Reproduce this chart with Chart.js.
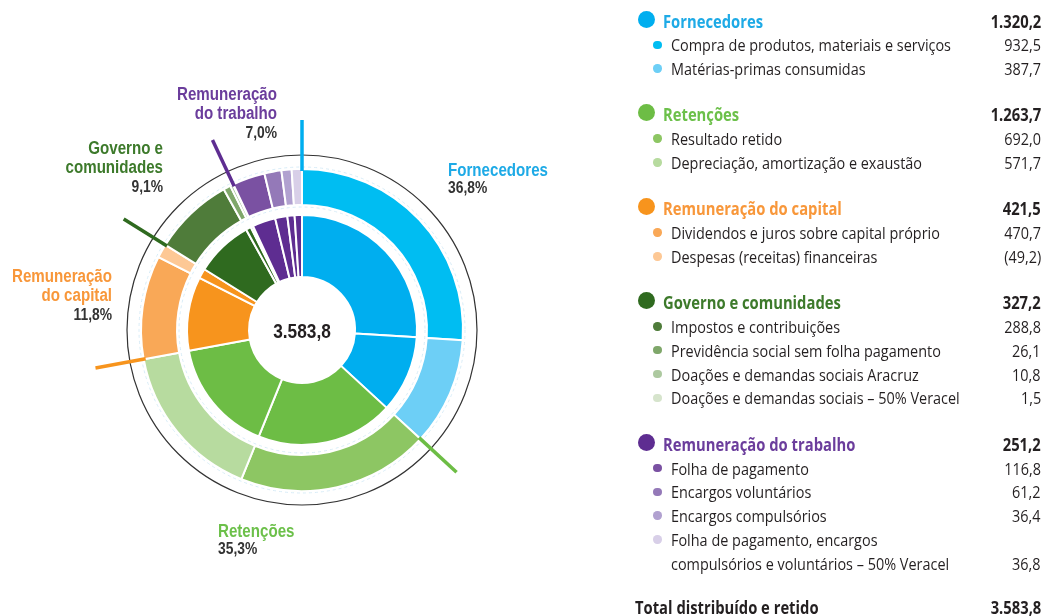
<!DOCTYPE html>
<html>
<head>
<meta charset="utf-8">
<script src="https://cdn.jsdelivr.net/npm/chart.js@4/dist/chart.umd.min.js"></script>
<style>
  html, body { margin: 0; padding: 0; background: #fff; }
  #wrap { position: relative; width: 1045px; height: 616px; overflow: hidden; }
  #chart { position: absolute; left: 0; top: 0; }
  .row { position: absolute; left: 600px; width: 441px; height: 24px; line-height: 24px;
         font-family: "Open Sans", sans-serif; font-size: 16.5px; color: #231f20; white-space: nowrap; }
  .row .dot { position: absolute; border-radius: 50%; }
  .row .txt { position: absolute; transform-origin: 0 50%; }
  .row .val { position: absolute; right: 0; transform-origin: 100% 50%; }
  .row.head .txt, .row.head .val, .row.total .txt, .row.total .val { font-weight: bold; font-size: 17px; }
</style>
</head>
<body>
<div id="wrap">
  <canvas id="chart" width="1045" height="616"></canvas>
</div>
<script>
// ---------- DATA ----------
const categories = ['Fornecedores', 'Retenções', 'Remuneração do capital', 'Governo e comunidades', 'Remuneração do trabalho'];
const categoryLabelLines = [['Fornecedores'], ['Retenções'], ['Remuneração', 'do capital'], ['Governo e', 'comunidades'], ['Remuneração', 'do trabalho']];
const categoryTotals = [1320.2, 1263.7, 421.5, 327.2, 251.2];
const categoryShares = ['36,8%', '35,3%', '11,8%', '9,1%', '7,0%'];
const itemLabels = [
  ['Compra de produtos, materiais e serviços'],
  ['Matérias-primas consumidas'],
  ['Resultado retido'],
  ['Depreciação, amortização e exaustão'],
  ['Dividendos e juros sobre capital próprio'],
  ['Despesas (receitas) financeiras'],
  ['Impostos e contribuições'],
  ['Previdência social sem folha pagamento'],
  ['Doações e demandas sociais Aracruz'],
  ['Doações e demandas sociais – 50% Veracel'],
  ['Folha de pagamento'],
  ['Encargos voluntários'],
  ['Encargos compulsórios'],
  ['Folha de pagamento, encargos', 'compulsórios e voluntários – 50% Veracel']
];
const itemValues = [932.5, 387.7, 692.0, 571.7, 470.7, -49.2, 288.8, 26.1, 10.8, 1.5, 116.8, 61.2, 36.4, 36.8];
// slice sizes as drawn in both rings (capital slice shown net of financial result)
const ringValues = [932.5, 387.7, 692.0, 571.7, 372.3, 49.2, 288.8, 26.1, 10.8, 1.5, 116.8, 61.2, 36.4, 36.8];
const itemCategory = [0, 0, 1, 1, 2, 2, 3, 3, 3, 3, 4, 4, 4, 4];
const totalValue = 3583.8;
const totalLabel = 'Total distribuído e retido';
const ringGap = [1];

// ---------- STYLES ----------
const categoryColors = ['#00aeef', '#6dbd45', '#f7941d', '#2f6a1f', '#5e2d91'];
const categoryTextColors = ['#1eaae6', '#6cc04a', '#f8973a', '#3d7a2b', '#6b3d9c'];
const itemColors = ['#00bdf2', '#6dcff6', '#8dc663', '#b7db9f', '#f9a857', '#fdc895',
                    '#4f7c3a', '#7fa76a', '#adc9a0', '#d6e4cc', '#7a51a2', '#9479b8', '#b1a1d0', '#d8cfe8'];

const fmt = v => {
  const s = Math.abs(v).toLocaleString('pt-BR', { minimumFractionDigits: 1, maximumFractionDigits: 1 });
  return v < 0 ? '(' + s + ')' : s;
};

const measureCtx = document.createElement('canvas').getContext('2d');
function textWidth(text, font) { measureCtx.font = font; return measureCtx.measureText(text).width; }

// ---------- DECORATION PLUGIN ----------
const LF = '"Liberation Sans", Arial, sans-serif';
const labelScale = 100 / textWidth('Remuneração', 'bold 17.5px ' + LF);
function squeezedText(ctx, text, x, y, align, sx) {
  ctx.save();
  ctx.translate(x, y);
  ctx.scale(sx, 1);
  ctx.textAlign = align;
  ctx.fillText(text, 0, 0);
  ctx.restore();
}
const deco = {
  id: 'deco',
  afterDatasetsDraw(chart) {
    const ctx = chart.ctx;
    const outer = chart.getDatasetMeta(0).data;
    const cx = outer[0].x, cy = outer[0].y;
    const R = outer[0].outerRadius;
    ctx.save();
    // faint dashed guide circles
    ctx.setLineDash([3, 3]);
    ctx.strokeStyle = '#d8ecf7';
    ctx.lineWidth = 1;
    [R + 2, outer[0].innerRadius - 2].forEach(r => {
      ctx.beginPath(); ctx.arc(cx, cy, r, 0, Math.PI * 2); ctx.stroke();
    });
    ctx.setLineDash([]);
    // thin outer circle
    ctx.strokeStyle = '#333333';
    ctx.lineWidth = 1.2;
    ctx.beginPath(); ctx.arc(cx, cy, R + 14, 0, Math.PI * 2); ctx.stroke();
    // leader lines at the start of each category
    ctx.lineWidth = 3.5;
    ctx.lineCap = 'butt';
    categories.forEach((c, ci) => {
      const idx = itemCategory.indexOf(ci);
      const a = outer[idx].startAngle;
      ctx.strokeStyle = categoryColors[ci];
      ctx.beginPath();
      ctx.moveTo(cx + Math.cos(a) * (R - 2), cy + Math.sin(a) * (R - 2));
      ctx.lineTo(cx + Math.cos(a) * (R + 49), cy + Math.sin(a) * (R + 49));
      ctx.stroke();
    });
    // category labels
    const labelPos = [
      { x: 448, y: 171, align: 'left' },
      { x: 218, y: 532, align: 'left' },
      { x: 112, y: 277, align: 'right' },
      { x: 163, y: 149, align: 'right' },
      { x: 277, y: 95, align: 'right' }
    ];
    ctx.textBaseline = 'middle';
    categories.forEach((c, ci) => {
      const p = labelPos[ci];
      ctx.font = 'bold 17.5px ' + LF;
      ctx.fillStyle = categoryTextColors[ci];
      const lines = categoryLabelLines[ci];
      lines.forEach((ln, k) => squeezedText(ctx, ln, p.x, p.y + k * 19.5, p.align, labelScale));
      ctx.fillStyle = '#333333';
      ctx.font = 'bold 16px ' + LF;
      squeezedText(ctx, categoryShares[ci], p.x, p.y + lines.length * 19.5 - (lines.length > 1 ? 0.5 : 1.5), p.align, labelScale);
    });
    // centre total
    ctx.fillStyle = '#231f20';
    ctx.font = 'bold 20px ' + LF;
    squeezedText(ctx, fmt(totalValue), cx, cy + 2, 'center', labelScale);
    ctx.restore();
  }
};

// ---------- CHART ----------
new Chart(document.getElementById('chart'), {
  type: 'doughnut',
  data: {
    labels: itemLabels.map(l => l.join(' ')),
    datasets: [
      { data: ringValues, backgroundColor: itemColors, borderColor: '#ffffff', borderWidth: 2, weight: 36 },
      { data: ringGap, backgroundColor: 'rgba(0,0,0,0)', borderWidth: 0, weight: 10 },
      { data: ringValues, backgroundColor: itemCategory.map(i => categoryColors[i]), borderColor: '#ffffff', borderWidth: 2, weight: 62 }
    ]
  },
  options: {
    responsive: false,
    animation: false,
    events: [],
    cutout: 53,
    hoverOffset: 0,
    layout: { padding: { left: 140, top: 168, right: 581, bottom: 124 } },
    plugins: { legend: { display: false }, tooltip: { enabled: false } }
  },
  plugins: [deco]
});

// ---------- TABLE LEGEND (HTML text) ----------
const LEG = '"Open Sans", sans-serif';
const bodyScale = 280 / textWidth(itemLabels[0][0], '16.5px ' + LEG);
const headScale = 100 / textWidth(categories[0], 'bold 17px ' + LEG);
const wrap = document.getElementById('wrap');
let y = 21.5;
const step = 23.8;
function addRow(opts) {
  const r = document.createElement('div');
  r.className = 'row' + (opts.cls ? ' ' + opts.cls : '');
  r.style.top = (opts.y - 12) + 'px';
  const sc = opts.cls ? headScale : bodyScale;
  if (opts.dot) {
    const d = document.createElement('div');
    d.className = 'dot';
    d.style.left = (opts.dot.x - 600 - opts.dot.r) + 'px';
    d.style.top = (12 + (opts.dot.dy || 0) - opts.dot.r) + 'px';
    d.style.width = d.style.height = (opts.dot.r * 2) + 'px';
    d.style.background = opts.dot.c;
    r.appendChild(d);
  }
  const t = document.createElement('span');
  t.className = 'txt';
  t.style.left = (opts.tx - 600) + 'px';
  t.style.transform = 'scaleX(' + sc + ')';
  t.textContent = opts.text;
  if (opts.color) t.style.color = opts.color;
  r.appendChild(t);
  if (opts.val !== undefined) {
    const v = document.createElement('span');
    v.className = 'val';
    v.style.transform = 'scaleX(' + sc + ')';
    v.textContent = opts.val;
    r.appendChild(v);
  }
  wrap.appendChild(r);
}
categories.forEach((c, ci) => {
  addRow({ y: y, cls: 'head', dot: { x: 646.5, r: 8.5, dy: -2.5, c: categoryColors[ci] }, tx: 663, text: c, color: categoryTextColors[ci], val: fmt(categoryTotals[ci]) });
  itemCategory.forEach((cat, ii) => {
    if (cat !== ci) return;
    const lines = itemLabels[ii];
    lines.forEach((ln, k) => {
      y += step;
      const last = k === lines.length - 1;
      addRow({ y: y, dot: k === 0 ? { x: 657.5, r: 4.2, dy: -0.5, c: itemColors[ii] } : null, tx: 671, text: ln, val: last ? fmt(itemValues[ii]) : undefined });
    });
  });
  y += step + 22.5;
});
addRow({ y: 607.5, cls: 'total', tx: 635, text: totalLabel, val: fmt(totalValue) });
</script>
</body>
</html>
